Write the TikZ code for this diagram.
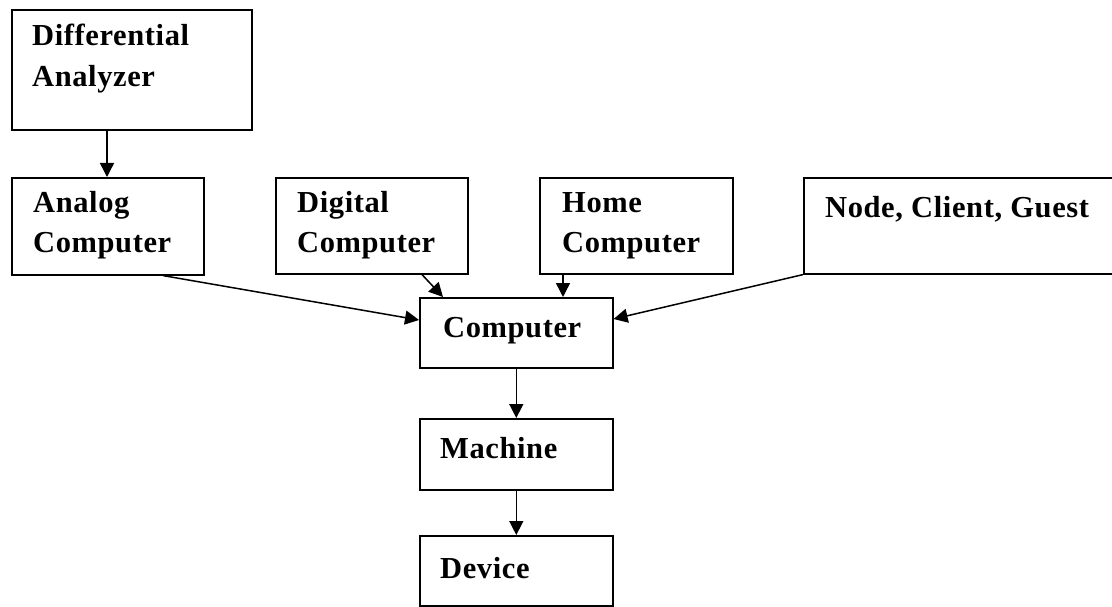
\documentclass[tikz,border=0pt]{standalone}
\usepackage{fontspec}
\setmainfont{Liberation Serif}
\newfontfamily\lblfont[LetterSpace=2]{Liberation Serif}
\usetikzlibrary{arrows.meta}
\begin{document}
\begin{tikzpicture}[x=1pt,y=-1pt,
  box/.style={draw=black, line width=1.6pt, rectangle, inner sep=0pt, anchor=north west},
  lbl/.style={anchor=base west, inner sep=0pt, font=\lblfont\fontsize{30.5pt}{40pt}\selectfont\bfseries},
  arr/.style={draw=black, line width=1.5pt, -{Triangle[length=14pt,width=14pt]}}]
\path[use as bounding box, fill=white] (0,0) rectangle (1112,607);
\clip (0,0) rectangle (1112,607);
% boxes
\node[box, minimum width=240pt, minimum height=120pt] (da) at (11,9) {};
\node[box, minimum width=192pt, minimum height=97pt] (ac) at (11,177) {};
\node[box, minimum width=192pt, minimum height=96pt] (dc) at (275,177) {};
\node[box, minimum width=193pt, minimum height=96pt] (hc) at (539,177) {};
\node[box, minimum width=330pt, minimum height=96pt] (ncg) at (803,177) {};
\node[box, minimum width=193pt, minimum height=70pt] (comp) at (419,297) {};
\node[box, minimum width=193pt, minimum height=71pt] (mach) at (419,418) {};
\node[box, minimum width=193pt, minimum height=70pt] (dev) at (419,535) {};
% texts
\node[lbl] (da1) at (32,46) {Differential};
\node[lbl] (da2) at (32,87) {Analyzer};
\node[lbl] (ac1) at (33,213) {Analog};
\node[lbl] (ac2) at (33,252) {Computer};
\node[lbl] (dc1) at (297,213) {Digital};
\node[lbl] (dc2) at (297,252) {Computer};
\node[lbl] (hc1) at (562,213) {Home};
\node[lbl] (hc2) at (562,252) {Computer};
\node[lbl] (ncg1) at (825,218) {Node, Client, Guest};
\node[lbl] (comp1) at (443,337) {Computer};
\node[lbl] (mach1) at (440,458) {Machine};
\node[lbl] (dev1) at (440,578) {Device};
% arrows
\draw[arr] ([xshift=96pt]da.south west) -- ([xshift=96pt]ac.north west);
\draw[arr] ([xshift=152pt]ac.south west) -- ([yshift=-23pt]comp.north west);
\draw[arr] ([xshift=147pt]dc.south west) -- ([xshift=24pt]comp.north west);
\draw[arr] ([xshift=24pt]hc.south west) -- ([xshift=144pt]comp.north west);
\draw[arr] (ncg.south west) -- ([yshift=-22pt]comp.north east);
\draw[arr] (comp.south) -- (mach.north);
\draw[arr] (mach.south) -- (dev.north);
\end{tikzpicture}
\end{document}
